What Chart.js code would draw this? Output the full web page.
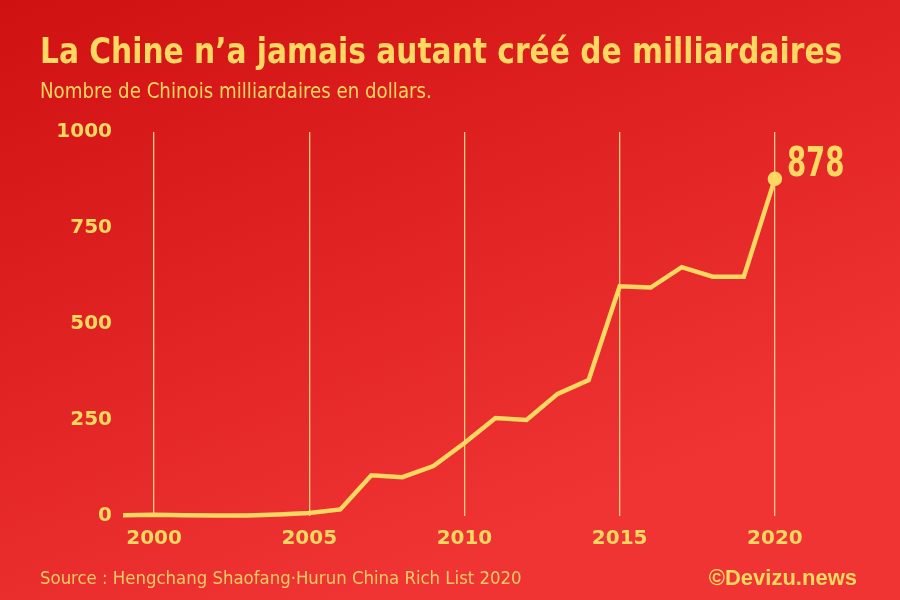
<!DOCTYPE html>
<html><head><meta charset="utf-8">
<script src="https://cdn.jsdelivr.net/npm/chart.js@4/dist/chart.umd.min.js"></script>
<style>html,body{margin:0;padding:0;background:#d81818;}canvas{display:block;}</style>
</head><body>
<canvas id="c" width="900" height="600"></canvas>
<script>
const years = [1999,2000,2001,2002,2003,2004,2005,2006,2007,2008,2009,2010,2011,2012,2013,2014,2015,2016,2017,2018,2019,2020];
const billionaires = [2,3,2,1,1,4,8,17,106,101,130,190,255,250,318,354,598,595,648,623,623,878];
const xTicks = [2000,2005,2010,2015,2020];
const yTicks = [0,250,500,750,1000];
const titleText = "La Chine n\u2019a jamais autant créé de milliardaires";
const subtitleText = "Nombre de Chinois milliardaires en dollars.";
const sourceText = "Source : Hengchang Shaofang\u00B7Hurun China Rich List 2020";
const creditText = "\u00A9Devizu.news";

const YEL = "#ffd862";
const NARROW = "'Liberation Sans Narrow','DejaVu Sans Condensed',Roboto,sans-serif";

function drawScaled(ctx, text, x, y, sx) {
  ctx.save();
  ctx.translate(x, y);
  ctx.scale(sx, 1);
  ctx.fillText(text, 0, 0);
  ctx.restore();
}

const bgPlugin = {
  id: 'bg',
  beforeDraw(chart) {
    const ctx = chart.ctx;
    const g = ctx.createLinearGradient(0, 0, 250, 640);
    g.addColorStop(0, '#cf1111');
    g.addColorStop(1, '#f03333');
    ctx.save(); ctx.fillStyle = g; ctx.fillRect(0, 0, chart.width, chart.height); ctx.restore();
  }
};
const textPlugin = {
  id: 'texts',
  afterDraw(chart) {
    const ctx = chart.ctx;
    ctx.save();
    ctx.textBaseline = 'alphabetic';
    ctx.textAlign = 'left';
    ctx.fillStyle = YEL;
    ctx.font = "bold 36px " + NARROW;
    drawScaled(ctx, titleText, 40, 63, 0.917);
    ctx.font = "22px " + NARROW;
    drawScaled(ctx, subtitleText, 40, 98, 0.92);
    ctx.fillStyle = '#f7cc66';
    ctx.font = "18.4px " + NARROW;
    ctx.fillText(sourceText, 40, 584);
    ctx.fillStyle = YEL;
    ctx.font = "bold 22px 'Liberation Sans',Arial,sans-serif";
    ctx.textAlign = 'right';
    ctx.fillText(creditText, 857, 585);
    // last value label
    const meta = chart.getDatasetMeta(0);
    const p = meta.data[meta.data.length - 1];
    ctx.textAlign = 'left';
    ctx.font = "bold 41px " + NARROW;
    drawScaled(ctx, String(billionaires[billionaires.length - 1]), p.x + 12, p.y - 3, 0.75);
    ctx.restore();
  }
};

new Chart(document.getElementById('c'), {
  type: 'line',
  data: {
    datasets: [{
      data: years.map((y, i) => ({x: y, y: billionaires[i]})),
      borderColor: YEL,
      backgroundColor: YEL,
      borderWidth: 4.5,
      tension: 0,
      pointRadius: years.map((y, i) => i === years.length - 1 ? 5 : 0),
      pointHoverRadius: 0,
      clip: false
    }]
  },
  options: {
    responsive: false,
    animation: false,
    events: [],
    layout: {padding: {left: 40, top: 132, right: 32, bottom: 0}},
    plugins: {legend: {display: false}, tooltip: {enabled: false}},
    scales: {
      x: {
        type: 'linear', min: 1999, max: 2023,
        afterFit(s) { s.height = 84; },
        afterBuildTicks(s) { s.ticks = xTicks.map(v => ({value: v})); },
        grid: {color: 'rgba(255,225,140,0.9)', lineWidth: 1.3, drawTicks: false},
        border: {display: false},
        ticks: {autoSkip: false, maxRotation: 0, color: YEL, padding: 11,
          font: {family: "'DejaVu Sans'", weight: 'bold', size: 20},
          callback: v => String(v)}
      },
      y: {
        min: 0, max: 1000,
        afterFit(s) { s.width = 83; },
        afterBuildTicks(s) { s.ticks = yTicks.map(v => ({value: v})); },
        grid: {display: false},
        border: {display: false},
        ticks: {color: YEL, padding: 3,
          font: {family: "'DejaVu Sans'", weight: 'bold', size: 20},
          callback: v => String(v)}
      }
    }
  },
  plugins: [bgPlugin, textPlugin]
});
</script>
</body></html>
